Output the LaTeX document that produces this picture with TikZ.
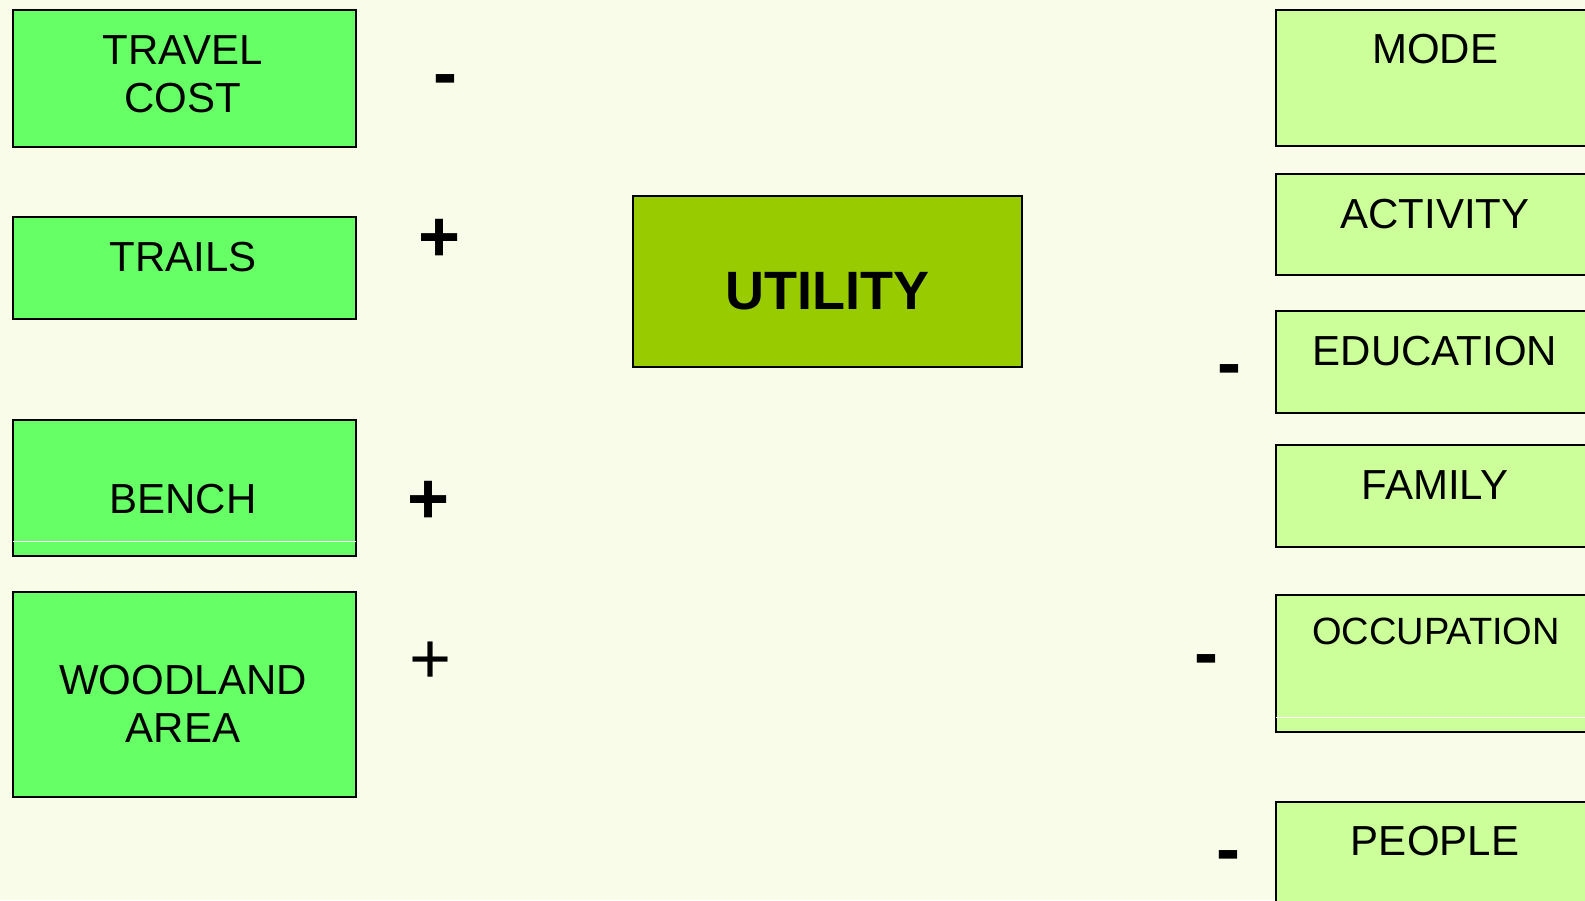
\documentclass[tikz,border=0pt]{standalone}
\usepackage{fontspec}
\setmainfont{Liberation Sans}
\definecolor{bgc}{RGB}{249,252,232}
\definecolor{lgreen}{RGB}{102,255,102}
\definecolor{ugreen}{RGB}{153,204,0}
\definecolor{rgreen}{RGB}{204,255,153}
\tikzset{
  boxbase/.style={draw=black, line width=2.2pt, rectangle, inner sep=0pt, anchor=north west},
  lbox/.style={boxbase, fill=lgreen},
  rbox/.style={boxbase, fill=rgreen},
  ubox/.style={boxbase, fill=ugreen},
  lbl/.style={inner sep=0pt, anchor=base, align=center, font=\fontsize{42}{48}\selectfont},
  sgn/.style={inner sep=0pt, anchor=base, font=\fontsize{72}{72}\selectfont\bfseries},
  sgnthin/.style={inner sep=0pt, anchor=base, font=\fontsize{72}{72}\selectfont},
  flaw/.style={draw=white, line width=0.7pt}
}
\begin{document}
\begin{tikzpicture}[x=1pt,y=-1pt]
\useasboundingbox (0,0) rectangle (1585,900);
\clip (0,0) rectangle (1585,900);
\fill[bgc] (0,0) rectangle (1585,900);
% left boxes
\node[lbox, minimum width=343pt, minimum height=137pt] (travel) at (12,9) {};
\node[lbox, minimum width=343pt, minimum height=102pt] (trails) at (12,216) {};
\node[lbox, minimum width=343pt, minimum height=136pt] (bench) at (12,419) {};
\node[lbox, minimum width=343pt, minimum height=205pt] (wood) at (12,591) {};
\draw[flaw] ([shift={(1,-16)}]bench.south west) -- ([shift={(-1,-16)}]bench.south east);
\node[lbl] (ttravel) at (183,112) {TRAVEL\\COST};
\node[lbl] (ttrails) at (183,271) {TRAILS};
\node[lbl] (tbench) at (183,513) {BENCH};
\node[lbl] (twood) at (183,742) {WOODLAND\\AREA};
% utility
\node[ubox, minimum width=389pt, minimum height=171pt] (util) at (632,195) {};
\node[inner sep=0pt, anchor=base, font=\fontsize{54}{54}\selectfont\bfseries] (tutil) at (827,309) {UTILITY};
% right boxes
\node[rbox, minimum width=330pt, minimum height=136pt] (mode) at (1275,9) {};
\node[rbox, minimum width=330pt, minimum height=101pt] (act) at (1275,173) {};
\node[rbox, minimum width=330pt, minimum height=102pt] (edu) at (1275,310) {};
\node[rbox, minimum width=330pt, minimum height=102pt] (fam) at (1275,444) {};
\node[rbox, minimum width=330pt, minimum height=137pt] (occ) at (1275,594) {};
\node[rbox, minimum width=330pt, minimum height=150pt] (peop) at (1275,801) {};
\draw[flaw] ([shift={(1,-16)}]occ.south west) -- ([shift={(-1,-16)}]occ.south east);
\node[lbl] (tmode) at (1435,63) {MODE};
\node[lbl] (tact) at (1435,228) {ACTIVITY};
\node[lbl] (tedu) at (1435,365) {EDUCATION};
\node[lbl] (tfam) at (1435,499) {FAMILY};
\node[lbl, font=\fontsize{38}{44}\selectfont] (tocc) at (1436,644) {OCCUPATION};
\node[lbl] (tpeop) at (1435,855) {PEOPLE};
% signs
\node[sgn] (s1) at (445,97) {-};
\node[sgn] (s2) at (440,261) {+};
\node[sgn] (s3) at (429,523) {+};
\node[sgnthin] (s4) at (431,683) {+};
\node[sgn] (s5) at (1229,387) {-};
\node[sgn] (s6) at (1206,677) {-};
\node[sgn] (s7) at (1228,873) {-};
\end{tikzpicture}
\end{document}
